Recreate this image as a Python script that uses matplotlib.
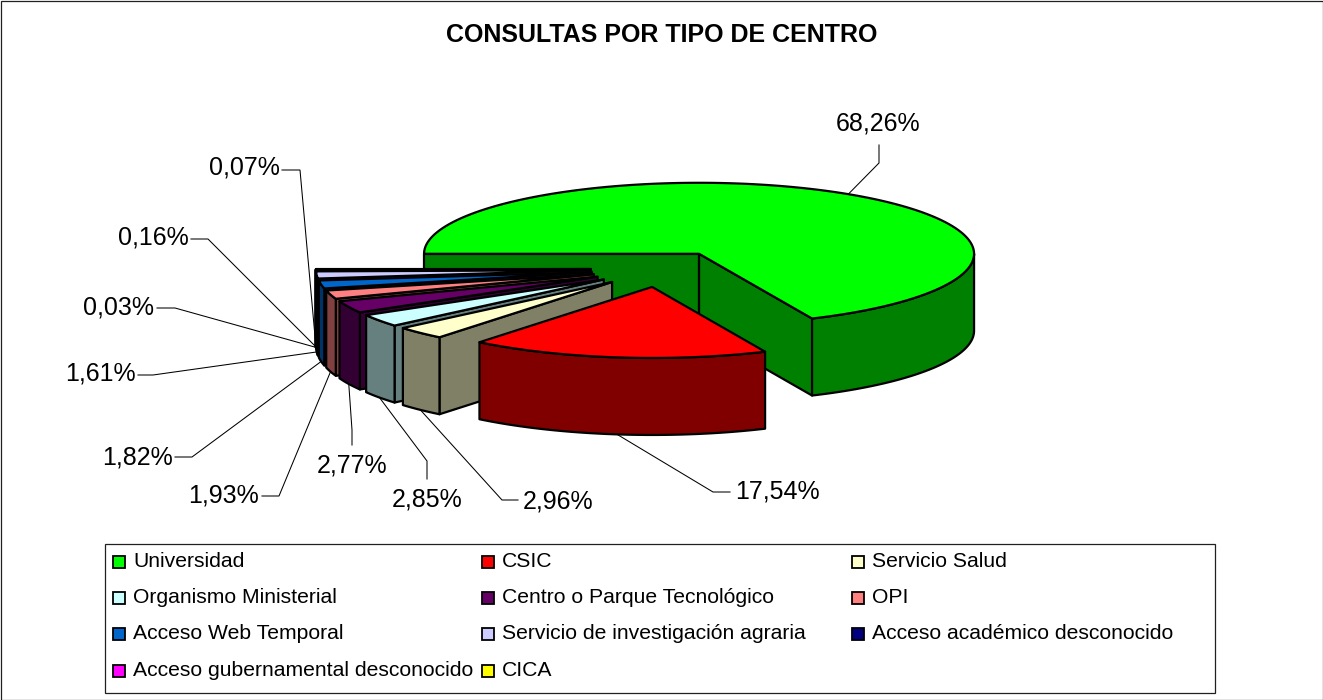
import numpy as np
import matplotlib
matplotlib.use("Agg")
import matplotlib.pyplot as plt
from matplotlib.patches import Rectangle
from matplotlib.colors import to_rgb

categories = ["Universidad", "CSIC", "Servicio Salud", "Organismo Ministerial",
              "Centro o Parque Tecnológico", "OPI", "Acceso Web Temporal",
              "Servicio de investigación agraria", "Acceso académico desconocido",
              "Acceso gubernamental desconocido", "CICA"]
values = [68.26, 17.54, 2.96, 2.85, 2.77, 1.93, 1.82, 1.61, 0.03, 0.16, 0.07]
colors = ["#00FF00", "#FF0000", "#FFFFCC", "#CCFFFF", "#660066", "#FF8080",
          "#0066CC", "#CCCCFF", "#000080", "#FF00FF", "#FFFF00"]
title = "CONSULTAS POR TIPO DE CENTRO"

plt.rcParams["font.family"] = ["Liberation Sans", "DejaVu Sans"]
fig = plt.figure(figsize=(13.23, 7.0), dpi=100, facecolor="white")
ax = fig.add_axes([0, 0, 1, 1])
ax.set_xlim(0, 1323)
ax.set_ylim(700, 0)
ax.axis("off")

# pie projection (pixels)
CX, CY, RX, RY, DEPTH, EXPLODE = 661, 269, 275, 71, 77, 0.255
FIRST_ANGLE = 270
LW = 1.6


def shade(c):
    return tuple(v / 2 for v in to_rgb(c))


def rim(a, apex):
    a = np.radians(a)
    return np.column_stack([apex[0] + RX * np.sin(a), apex[1] - RY * np.cos(a)])


def poly(pts, color, z):
    ax.fill(pts[:, 0], pts[:, 1], facecolor=color, edgecolor="black", lw=LW,
            joinstyle="round", zorder=z)


def draw_slice(start, end, color, z):
    mid = (start + end) / 2
    apex = (CX + EXPLODE * RX * np.sin(np.radians(mid)),
            CY - EXPLODE * RY * np.cos(np.radians(mid)))
    side = shade(color)
    down = np.array([0, DEPTH])
    ap = np.array([apex])
    for a, sign in ((start, 1), (end, -1)):
        p = rim(np.array([a]), apex)
        if sign * (p[0, 0] - apex[0]) < 0:
            poly(np.vstack([ap, p, p + down, ap + down]), side, z)
    for k in (0, 360):
        lo, hi = max(start, 90 + k), min(end, 270 + k)
        if hi > lo:
            arc = rim(np.linspace(lo, hi, 80), apex)
            poly(np.vstack([arc, arc[::-1] + down]), side, z)
    arc = rim(np.linspace(start, end, max(3, int(end - start) * 2)), apex)
    poly(np.vstack([ap, arc]), color, z)
    return rim(np.array([mid]), apex)[0] + np.array([0, DEPTH if np.cos(np.radians(mid)) < 0.0 else 0])


edges = FIRST_ANGLE + np.concatenate([[0], np.cumsum(values)]) * 3.6
order = [0] + list(range(len(values) - 1, 1, -1)) + [1]
anchors = {}
for z, i in enumerate(order, start=2):
    anchors[i] = draw_slice(edges[i], edges[i + 1], colors[i], z)

# data labels with leader lines: label centre, elbow, leader end next to the label
label_xy = [(878, 123), (777, 491), (558, 501), (427, 500), (352, 465), (224, 495),
            (137, 457), (100, 374), (119, 307), (153, 238), (244, 168)]
elbows = [(879, 163), (713, 492), (502, 500), (427, 461), (352, 430), (279, 496),
          (192, 457), (153, 375), (175, 308), (208, 239), (300, 170)]
tails = [(879, 145), (730, 492), (518, 500), (427, 479), (352, 445), (262, 496),
         (175, 457), (138, 375), (157, 308), (191, 239), (282, 170)]
for i, v in enumerate(values):
    ax.plot([anchors[i][0], elbows[i][0], tails[i][0]],
            [anchors[i][1], elbows[i][1], tails[i][1]],
            color="black", lw=0.75, zorder=30, solid_joinstyle="miter")
    ax.text(*label_xy[i], f"{v:.2f}%".replace(".", ","), ha="center", va="center",
            fontsize=18, color="black", zorder=31)

ax.text(662, 35.5, title, ha="center", va="center", fontsize=18,
        fontweight="bold", color="black")

# legend box
ax.add_patch(Rectangle((105, 544), 1110, 149, facecolor="white", edgecolor="#202020", lw=0.9, zorder=20))
col_x = [113, 482, 852]
row_y = [562, 598, 634, 671]
for i, (name, c) in enumerate(zip(categories, colors)):
    x, y = col_x[i % 3], row_y[i // 3]
    ax.add_patch(Rectangle((x, y - 6), 12, 12, facecolor=c, edgecolor="black", lw=1.3, zorder=21))
    ax.text(x + 20, y - 0.5, name, ha="left", va="center", fontsize=15.2, color="black", zorder=21)

# chart border
ax.add_patch(Rectangle((0.5, 0.5), 1322, 699, facecolor="none", edgecolor="#202020", lw=0.9, zorder=40, clip_on=False))

fig.savefig("out.png", dpi=100, facecolor="white")
